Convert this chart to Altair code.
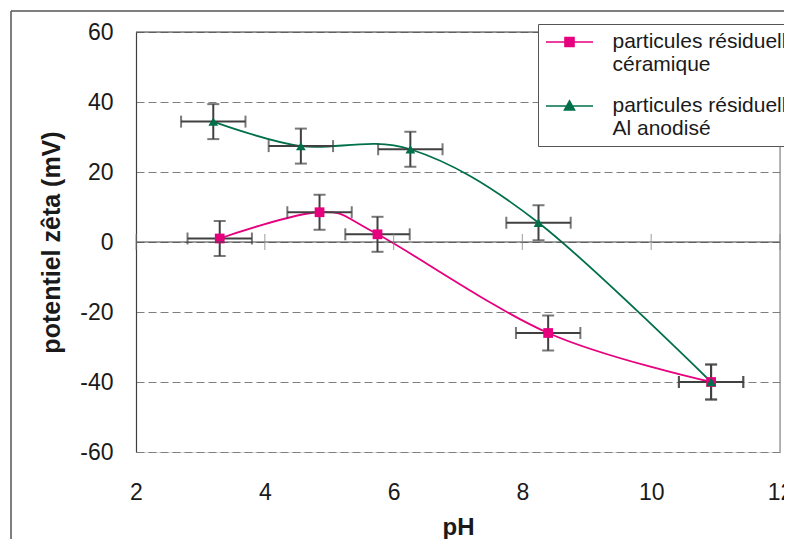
import altair as alt
import pandas as pd

# ---- data ----
series_names = ["particules résiduelles|céramique", "particules résiduelles|Al anodisé"]
series_colors = ["#E6007E", "#00704A"]
series_marks = ["square", "triangle-up"]

cer_ph = [3.30, 4.85, 5.75, 8.40, 10.93]
cer_zeta = [1.0, 8.5, 2.2, -26.0, -40.0]
cer_ph_err = [0.5, 0.5, 0.5, 0.5, 0.5]
cer_zeta_err = [5.0, 5.0, 5.0, 5.0, 5.0]

ano_ph = [3.20, 4.56, 6.26, 8.25, 10.93]
ano_zeta = [34.4, 27.4, 26.5, 5.5, -40.0]
ano_ph_err = [0.5, 0.5, 0.5, 0.5, 0.5]
ano_zeta_err = [5.0, 5.0, 5.0, 5.0, 5.0]

x_ticks = [2, 4, 6, 8, 10, 12]
y_ticks = [-60, -40, -20, 0, 20, 40, 60]

# ---- build table ----
rows = []
for name, ph, z, pe, ze in [
    (series_names[0], cer_ph, cer_zeta, cer_ph_err, cer_zeta_err),
    (series_names[1], ano_ph, ano_zeta, ano_ph_err, ano_zeta_err),
]:
    for a, b, c, d in zip(ph, z, pe, ze):
        rows.append({"series": name, "ph": a, "zeta": b, "ph_err": c, "zeta_err": d})
df = pd.DataFrame(rows)

FONT = "Liberation Sans"
TXT = "#1a1a1a"
ERR = "#404040"
NUM = "datum.value < 0 ? '-' + abs(datum.value) : '' + datum.value"

xscale = alt.Scale(domain=[2, 12], nice=False, zero=False)
yscale = alt.Scale(domain=[-60, 60], nice=False)

base = alt.Chart(df).transform_calculate(
    ph_lo="datum.ph - datum.ph_err",
    ph_hi="datum.ph + datum.ph_err",
    z_lo="datum.zeta - datum.zeta_err",
    z_hi="datum.zeta + datum.zeta_err",
)

X = alt.X("ph:Q", scale=xscale, axis=alt.Axis(
    values=x_ticks, title="pH", grid=False, domain=False, ticks=False, tickSize=0,
    labelExpr=NUM, labelFlush=False, labelBaseline="top",
    labelPadding=29, labelFontSize=23, labelFont=FONT, labelColor=TXT,
    titleFont=FONT, titleFontSize=24, titleFontWeight="bold", titleColor=TXT, titlePadding=11,
))
Y = alt.Y("zeta:Q", scale=yscale, axis=alt.Axis(
    values=y_ticks, title="potentiel zêta (mV)", grid=True, gridDash=[8, 4], gridColor="#7f7f7f",
    gridWidth=1, domain=True, domainColor="#404040", domainWidth=1.2, ticks=False, tickSize=0,
    labelExpr=NUM, labelFlush=False,
    labelPadding=23, labelFontSize=23, labelFont=FONT, labelColor=TXT,
    titleFont=FONT, titleFontSize=25, titleFontWeight="bold", titleColor=TXT, titlePadding=15,
))

# outer chart frame (only its top and left edges fall inside the picture)
one = alt.Data(values=[{}])
frame_top = alt.Chart(one).mark_rule(color="#555555", strokeWidth=1.5).encode(
    x=alt.value(-125), x2=alt.value(700), y=alt.value(-21))
frame_left = alt.Chart(one).mark_rule(color="#555555", strokeWidth=1.5).encode(
    x=alt.value(-125), y=alt.value(-21), y2=alt.value(560))

axes_layer = base.mark_point(opacity=0).encode(x=X, y=Y)

top_border = alt.Chart(one).mark_rule(color="#404040", strokeWidth=1.2).encode(
    y=alt.datum(60, scale=yscale))
right_border = alt.Chart(one).mark_rule(color="#8a8a8a", strokeWidth=1.2).encode(
    x=alt.datum(12, scale=xscale))
zero_line = alt.Chart(one).mark_rule(color="#404040", strokeWidth=1.2).encode(
    y=alt.datum(0, scale=yscale))
zero_ticks = alt.Chart(pd.DataFrame({"t": x_ticks, "z": [0] * len(x_ticks)})).mark_tick(
    orient="vertical", size=16, thickness=1.2, color="#8a8a8a"
).encode(x=alt.X("t:Q", scale=xscale), y=alt.Y("z:Q", scale=yscale))

lines = []
points = []
for name, col, shp in zip(series_names, series_colors, series_marks):
    sub = base.transform_filter(alt.datum.series == name)
    lines.append(sub.mark_line(color=col, strokeWidth=1.8, interpolate="cardinal").encode(
        x=alt.X("ph:Q", scale=xscale), y=alt.Y("zeta:Q", scale=yscale)))
    points.append(sub.mark_point(shape=shp, filled=True, fill=col, color=col, opacity=1, size=95).encode(
        x=alt.X("ph:Q", scale=xscale), y=alt.Y("zeta:Q", scale=yscale)))

err_v = base.mark_rule(color=ERR, strokeWidth=2).encode(
    x=alt.X("ph:Q", scale=xscale), y=alt.Y("z_lo:Q", scale=yscale), y2="z_hi:Q")
err_h = base.mark_rule(color=ERR, strokeWidth=2).encode(
    y=alt.Y("zeta:Q", scale=yscale), x=alt.X("ph_lo:Q", scale=xscale), x2="ph_hi:Q")
cap_lo = base.mark_tick(orient="horizontal", size=12, thickness=2, color=ERR).encode(
    x=alt.X("ph:Q", scale=xscale), y=alt.Y("z_lo:Q", scale=yscale))
cap_hi = base.mark_tick(orient="horizontal", size=12, thickness=2, color=ERR).encode(
    x=alt.X("ph:Q", scale=xscale), y=alt.Y("z_hi:Q", scale=yscale))
cap_l = base.mark_tick(orient="vertical", size=12, thickness=2, color=ERR).encode(
    x=alt.X("ph_lo:Q", scale=xscale), y=alt.Y("zeta:Q", scale=yscale))
cap_r = base.mark_tick(orient="vertical", size=12, thickness=2, color=ERR).encode(
    x=alt.X("ph_hi:Q", scale=xscale), y=alt.Y("zeta:Q", scale=yscale))

# legend symbols: a 47px line with the marker in its middle (unit = 10px at symbolSize 400)
legend_paths = [
    "M-2.35,0H2.35M-0.45,-0.45H0.45V0.45H-0.45Z",
    "M-2.35,0H2.35M-0.5,0.4L0.5,0.4L0,-0.5Z",
]
leg = alt.Legend(
    title=None, orient="none", legendX=402, legendY=-8,
    strokeColor="#555555", fillColor="white", padding=7, cornerRadius=0,
    labelFont=FONT, labelFontSize=21, labelColor=TXT, labelLimit=600,
    labelBaseline="middle", labelOffset=32, symbolOffset=13.5,
    labelExpr="split(datum.label, '|')",
    symbolSize=400, symbolStrokeWidth=1.6, symbolOpacity=1, rowPadding=20,
)
legend_layer = base.mark_point(filled=True, opacity=0).encode(
    x=alt.X("ph:Q", scale=xscale), y=alt.Y("zeta:Q", scale=yscale),
    fill=alt.Fill("series:N", scale=alt.Scale(domain=series_names, range=series_colors), legend=leg),
    stroke=alt.Stroke("series:N", scale=alt.Scale(domain=series_names, range=series_colors), legend=leg),
    shape=alt.Shape("series:N", scale=alt.Scale(domain=series_names, range=legend_paths), legend=leg),
)

chart = alt.layer(
    frame_top, frame_left, axes_layer, *lines, err_v, err_h, cap_lo, cap_hi, cap_l, cap_r, *points,
    top_border, right_border, zero_line, zero_ticks, legend_layer,
).properties(
    width=644, height=420,
    autosize=alt.AutoSizeParams(type="none"),
    padding={"left": 128, "top": 24, "right": 4, "bottom": 87},
).configure_view(stroke=None).configure(background="white")

chart.save("out.html", embed_options={"renderer": "svg", "actions": False})
